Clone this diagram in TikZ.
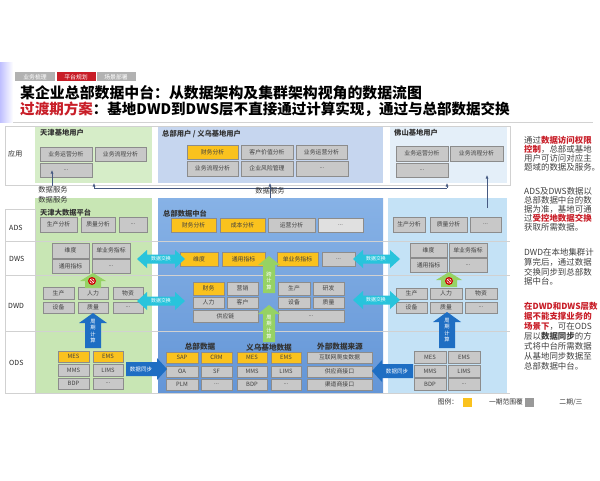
\documentclass[tikz,border=0pt]{standalone}
\usepackage{fontspec}
\setmainfont{Noto Sans CJK SC}
\usetikzlibrary{positioning,calc,arrows.meta}
\definecolor{TjGreen}{RGB}{200,230,180}
\definecolor{TjGreenApp}{RGB}{214,237,200}
\definecolor{HqBlueApp}{RGB}{198,214,239}
\definecolor{HqBlueTop}{RGB}{135,178,230}
\definecolor{HqBlue}{RGB}{100,150,215}
\definecolor{FsBlueApp}{RGB}{228,239,249}
\definecolor{FsBlue}{RGB}{196,226,246}
\definecolor{CellGray}{RGB}{200,200,200}
\definecolor{CellYellow}{RGB}{250,194,30}
\definecolor{XchCyan}{RGB}{40,196,220}
\definecolor{SyncBlue}{RGB}{30,110,195}
\definecolor{CalcGreen}{RGB}{150,210,100}
\definecolor{TitleRed}{RGB}{200,30,40}
\definecolor{LineGray}{RGB}{210,210,210}
\definecolor{SvcLine}{RGB}{70,90,130}
\tikzset{
  cell/.style={draw=black!45,fill=CellGray,inner sep=0pt,outer sep=0pt,text=black!75,
    font=\fontsize{5}{6}\selectfont},
  hot/.style={fill=CellYellow},
  pale/.style={fill=black!12},
  area/.style={font=\bfseries\fontsize{6.2}{7}\selectfont,text=black!80,inner sep=0pt,anchor=west},
  srcttl/.style={font=\bfseries\fontsize{6.5}{7}\selectfont,text=black!80,inner sep=0pt},
  rowlbl/.style={font=\fontsize{6}{7}\selectfont,text=black!85,inner sep=0pt,anchor=west},
  arrtxt/.style={text=white,font=\fontsize{4.2}{5}\selectfont,inner sep=0pt},
  vtxt/.style={text=white,font=\fontsize{4.5}{5.6}\selectfont,inner sep=0pt,align=center},
  svctxt/.style={font=\fontsize{6.2}{7}\selectfont,text=black!80,inner sep=0pt},
  svc/.style={draw=SvcLine,line width=0.5pt,-{Latex[length=3pt,width=2.5pt]}},
  svcline/.style={draw=SvcLine,line width=0.5pt},
  rowline/.style={draw=black!18,line width=0.4pt},
  note/.style={font=\fontsize{7.2}{7.7}\selectfont,text=black!75,align=left,inner sep=0pt,anchor=north west},
  tab/.style={font=\fontsize{5}{6}\selectfont,text=white,inner sep=0pt,minimum width=1.17cm,minimum height=0.27cm},
  legtxt/.style={font=\fontsize{5.8}{7}\selectfont,text=black!80,inner sep=0pt},
  legbox/.style={inner sep=0pt,minimum size=0.27cm},
}
% cell from its corners: [style] name x1 y1 x2 y2 text
\newcommand{\cbox}[7][]{\node[cell,#1,minimum width={(#5-#3)*0.03cm},minimum height={(#6-#4)*0.03cm}] (#2) at ({(#3+#5)/2},{(#4+#6)/2}) {#7};}
% block arrows
\newcommand{\blkup}[7]{\fill[#1] ({#2-#5},#4) -- ({#2-#5},{#3+#7}) -- ({#2-#6},{#3+#7}) -- (#2,#3) -- ({#2+#6},{#3+#7}) -- ({#2+#5},{#3+#7}) -- ({#2+#5},#4) -- cycle;}
\newcommand{\blkh}[7]{\fill[#1] (#2,{#5-#6}) -- (#4,{#5-#6}) -- (#4,{#5-#7}) -- (#3,#5) -- (#4,{#5+#7}) -- (#4,{#5+#6}) -- (#2,{#5+#6}) -- cycle;}
\newcommand{\blkdbl}[7]{\fill[#1] (#2,#4) -- ({#2+#7},{#4-#6}) -- ({#2+#7},{#4-#5}) -- ({#3-#7},{#4-#5}) -- ({#3-#7},{#4-#6}) -- (#3,#4) -- ({#3-#7},{#4+#6}) -- ({#3-#7},{#4+#5}) -- ({#2+#7},{#4+#5}) -- ({#2+#7},{#4+#6}) -- cycle;}

\begin{document}
\begin{tikzpicture}[x=0.03cm,y=-0.03cm]
\useasboundingbox (0,0) rectangle (600,480);
% header
\shade[left color=blue!25,right color=white] (0,63) rectangle (13,122);
\node[tab,fill=black!30] (tab1) at (35,77) {业务梳理};
\node[tab,fill=TitleRed] (tab2) at (76,77) {平台规划};
\node[tab,fill=black!30] (tab3) at (116,77) {场景部署};
\node[anchor=west,inner sep=0pt,font=\bfseries\fontsize{12.7}{14}\selectfont] (title) at (20,93)
  {某企业总部数据中台：从数据架构及集群架构视角的数据流图};
\node[anchor=west,inner sep=0pt,font=\bfseries\fontsize{12.4}{14}\selectfont] (subtitle) at (20,109)
  {\textcolor{TitleRed}{过渡期方案}：基地DWD到DWS层不直接通过计算实现，通过与总部数据交换};
\draw[LineGray,line width=0.6pt] (13,122) -- (593,122);

% regions
\fill[TjGreenApp] (35,126) rectangle (152,183);
\fill[HqBlueApp] (158,126) rectangle (383,183);
\fill[FsBlueApp] (390,126) rectangle (507,183);
\fill[TjGreen] (35,198) rectangle (152,393);
\shade[top color=HqBlueTop,bottom color=HqBlue] (158,198) rectangle (383,393);
\fill[FsBlue] (388,198) rectangle (507,393);
\draw[rowline] (5,126) rectangle (510,185);
\draw[rowline] (5,209) rectangle (35,393);
\draw[rowline] (35,393) -- (510,393);
\foreach \yy in {241,275,331}
  \draw[rowline] (5,\yy) -- (510,\yy);

% row labels
\node[rowlbl] (lblapp) at (8,154) {应用};
\node[rowlbl] (lblads) at (9,228) {ADS};
\node[rowlbl] (lbldws) at (9,259) {DWS};
\node[rowlbl] (lbldwd) at (8,306) {DWD};
\node[rowlbl] (lblods) at (9,363) {ODS};

% area labels
\node[area] (tjuser) at (40,133) {天津基地用户};
\node[area] (hquser) at (162,134) {总部用户 / 义乌基地用户};
\node[area] (fsuser) at (394,133) {佛山基地用户};
\node[area] (tjplat) at (40,213) {天津大数据平台};
\node[area] (hqplat) at (163,214) {总部数据中台};
\node[srcttl] (hqsrc) at (200,347) {总部数据};
\node[srcttl] (ywsrc) at (269,348) {义乌基地数据};
\node[srcttl] (extsrc) at (340,347) {外部数据来源};

% application
\cbox{tjops}{40}{147}{92}{161}{业务运营分析}
\cbox{tjflow}{95}{147}{146}{161}{业务流程分析}
\cbox{tjappmore}{40}{163}{92}{177}{...}
\cbox[hot]{hqfin}{187}{145}{238}{159}{财务分析}
\cbox{hqcust}{241}{145}{293}{159}{客户价值分析}
\cbox{hqops}{296}{145}{347}{159}{业务运营分析}
\cbox{hqflow}{187}{161}{238}{176}{业务流程分析}
\cbox{hqrisk}{241}{161}{293}{176}{企业风险管理}
\cbox{hqappmore}{296}{161}{348}{176}{...}
\cbox{fsops}{396}{146}{448}{161}{业务运营分析}
\cbox{fsflow}{450}{146}{503}{161}{业务流程分析}
\cbox{fsappmore}{396}{163}{448}{177}{...}

% ADS
\cbox{tjprod}{40}{217}{77}{232}{生产分析}
\cbox{tjqual}{81}{217}{115}{232}{质量分析}
\cbox{tjadsmore}{119}{217}{147}{232}{...}
\cbox[hot]{hqfinads}{171}{218}{216}{232}{财务分析}
\cbox[hot]{hqcost}{220}{218}{265}{232}{成本分析}
\cbox{hqopsads}{268}{218}{315}{232}{运营分析}
\cbox[pale]{hqadsmore}{318}{218}{363}{232}{...}
\cbox{fsprod}{393}{217}{425}{232}{生产分析}
\cbox{fsqual}{430}{217}{467}{232}{质量分析}
\cbox{fsadsmore}{470}{217}{501}{232}{...}

% DWS
\cbox{tjdim}{52}{243}{89}{258}{维度}
\cbox{tjsingle}{92}{243}{130}{258}{单业务指标}
\cbox{tjgen}{52}{259}{89}{273}{通用指标}
\cbox{tjdwsmore}{92}{259}{130}{273}{...}
\cbox[hot]{hqdim}{180}{252}{218}{266}{维度}
\cbox[hot]{hqgen}{222}{252}{265}{266}{通用指标}
\cbox[hot]{hqsingle}{277}{252}{318}{266}{单业务指标}
\cbox{hqdwsmore}{322}{252}{355}{266}{...}
\cbox{fsdim}{410}{243}{447}{257}{维度}
\cbox{fssingle}{449}{243}{487}{257}{单业务指标}
\cbox{fsgen}{410}{258}{447}{272}{通用指标}
\cbox{fsdwsmore}{449}{258}{487}{272}{...}

% DWD
\cbox{tjprd}{43}{287}{74}{299}{生产}
\cbox{tjhr}{78}{287}{108}{299}{人力}
\cbox{tjmat}{113}{287}{143}{299}{物资}
\cbox{tjeq}{43}{302}{74}{313}{设备}
\cbox{tjqa}{78}{302}{108}{313}{质量}
\cbox{tjdwdmore}{113}{302}{143}{313}{...}
\cbox[hot]{hqfinc}{193}{282}{224}{295}{财务}
\cbox{hqmkt}{227}{282}{258}{295}{营销}
\cbox{hqhr}{193}{297}{224}{308}{人力}
\cbox{hqcus}{227}{297}{258}{308}{客户}
\cbox{hqsc}{193}{310}{258}{322}{供应链}
\cbox{hqprd}{278}{282}{310}{295}{生产}
\cbox{hqrd}{313}{282}{344}{295}{研发}
\cbox{hqeq}{278}{297}{310}{308}{设备}
\cbox{hqqa}{313}{297}{344}{308}{质量}
\cbox{hqdwdmore}{278}{310}{344}{322}{...}
\cbox{fsprd}{396}{288}{427}{299}{生产}
\cbox{fshr}{430}{288}{462}{299}{人力}
\cbox{fsmat}{465}{288}{497}{299}{物资}
\cbox{fseq}{396}{302}{427}{313}{设备}
\cbox{fsqa}{430}{302}{462}{313}{质量}
\cbox{fsdwdmore}{465}{302}{497}{313}{...}

% ODS
\cbox[hot]{tjmes}{58}{351}{89}{362}{MES}
\cbox[hot]{tjems}{93}{351}{123}{362}{EMS}
\cbox{tjmms}{58}{364}{89}{376}{MMS}
\cbox{tjlims}{93}{364}{123}{376}{LIMS}
\cbox{tjbdp}{58}{378}{89}{389}{BDP}
\cbox{tjodsmore}{93}{378}{123}{389}{...}
\cbox[hot]{sap}{166}{352}{198}{363}{SAP}
\cbox[hot]{crm}{201}{352}{232}{363}{CRM}
\cbox{oa}{166}{366}{198}{377}{OA}
\cbox{sf}{201}{366}{232}{377}{SF}
\cbox{plm}{166}{379}{198}{390}{PLM}
\cbox{hqodsmore}{201}{379}{232}{390}{...}
\cbox[hot]{ywmes}{237}{352}{267}{363}{MES}
\cbox[hot]{ywems}{271}{352}{301}{363}{EMS}
\cbox{ywmms}{237}{366}{267}{377}{MMS}
\cbox{ywlims}{271}{366}{301}{377}{LIMS}
\cbox{ywbdp}{237}{379}{267}{390}{BDP}
\cbox{ywodsmore}{271}{379}{301}{390}{...}
\cbox{crawl}{307}{352}{372}{363}{互联网爬虫数据}
\cbox{supif}{307}{366}{372}{377}{供应商接口}
\cbox{chanif}{307}{379}{372}{390}{渠道商接口}
\cbox{fsmes}{414}{351}{446}{363}{MES}
\cbox{fsems}{448}{351}{480}{363}{EMS}
\cbox{fsmms}{414}{365}{446}{377}{MMS}
\cbox{fslims}{448}{365}{480}{377}{LIMS}
\cbox{fsbdp}{414}{378}{446}{390}{BDP}
\cbox{fsodsmore}{448}{378}{480}{390}{...}

% data exchange
\blkdbl{XchCyan}{137}{185}{259}{4.5}{9}{10}
\blkdbl{XchCyan}{137}{185}{301}{4.5}{9}{10}
\blkdbl{XchCyan}{353}{400}{259}{4.5}{9}{10}
\blkdbl{XchCyan}{353}{400}{300}{4.5}{9}{10}
\node[arrtxt] (xchdwsl) at (161,259) {数据交换};
\node[arrtxt] (xchdwdl) at (161,301) {数据交换};
\node[arrtxt] (xchdwsr) at (376,259) {数据交换};
\node[arrtxt] (xchdwdr) at (376,300) {数据交换};

% data sync
\blkh{SyncBlue}{126}{167}{157}{369}{7}{11}
\blkh{SyncBlue}{413}{372}{382}{371}{7}{11}
\node[arrtxt,font=\fontsize{4.7}{5}\selectfont] (synctj) at (141,369) {数据同步};
\node[arrtxt,font=\fontsize{4.7}{5}\selectfont] (syncfs) at (397,371) {数据同步};

% computation
\blkup{SyncBlue}{93}{313}{348}{8}{14}{10}
\blkup{SyncBlue}{447}{312}{348}{8}{14}{10}
\node[vtxt] (tjcyc) at (93,331) {周\\期\\计\\算};
\node[vtxt] (fscyc) at (447,330) {周\\期\\计\\算};
\blkup{CalcGreen}{269}{256}{293}{6}{11}{9}
\blkup{CalcGreen}{269}{305}{342}{6}{11}{9}
\node[vtxt] (hqcross) at (269,281) {跨\\计\\算};
\node[vtxt] (hqcyc) at (269,327) {周\\期\\计\\算};
\blkup{CalcGreen}{93}{273}{288}{8}{13}{8}
\blkup{CalcGreen}{449}{272}{287}{8}{13}{8}
\foreach \xx in {92,449} {
  \fill[red!80!black] (\xx,281) circle (4);
  \draw[white,line width=0.4pt] (\xx,281) circle (2.2);
  \draw[white,line width=0.4pt] ({\xx-1.6},279.4) -- ({\xx+1.6},282.6);
}

% data services
\coordinate (tjsvcfrom) at (52,186);
\coordinate (hqsvcfrom) at (270,198);
\coordinate (hqappin) at (270,183);
\coordinate (busl) at (94,188);
\coordinate (busr) at (447,188);
\coordinate (tjappin) at (94,183);
\coordinate (fsappin) at (447,183);
\coordinate (fssvcfrom) at (487,208);
\coordinate (fsappin2) at (487,175);
\draw[svc] (tjsvcfrom) -- (tjsvcfrom |- tjappmore.center);
\draw[svcline] (busl) -- (busr);
\draw[svc] (busl) -- (tjappin);
\draw[svc] (busr) -- (fsappin);
\draw[svc] (hqsvcfrom) -- (hqappin);
\draw[svc] (fssvcfrom) -- (fsappin2);
\node[svctxt] (tjsvc1) at (53,190) {数据服务};
\node[svctxt] (tjsvc2) at (53,200) {数据服务};
\node[svctxt] (hqsvc) at (270,191) {数据服务};

% notes
\node[note] (note1) at (524,135.5) {通过\textcolor{TitleRed}{\bfseries 数据访问权限}\\
  \textcolor{TitleRed}{\bfseries 控制}，总部或基地\\用户可访问对应主\\题域的数据及服务。};
\node[note] (note2) at (524,187.5) {ADS及DWS数据以\\总部数据中台的数\\据为准，基地可通\\
  过\textcolor{TitleRed}{\bfseries 受控地数据交换}\\获取所需数据。};
\node[note,font=\fontsize{7.2}{8.4}\selectfont] (note3) at (524,248) {DWD在本地集群计\\算完后，通过数据\\
  交换同步到总部数\\据中台。};
\node[note,font=\fontsize{7.2}{8.6}\selectfont] (note4) at (524,302) {\textcolor{TitleRed}{\bfseries 在DWD和DWS层数}\\
  \textcolor{TitleRed}{\bfseries 据不能支撑业务的}\\\textcolor{TitleRed}{\bfseries 场景下}，可在ODS\\
  层以\textbf{数据同步}的方\\式将中台所需数据\\从基地同步数据至\\总部数据中台。};

% legend
\node[legtxt] (leg) at (448,402) {图例：};
\node[legbox,fill=CellYellow] (legy) at (467.5,402.5) {};
\node[legtxt] (legone) at (506,402) {一期范围覆};
\node[legbox,fill=black!40] (legg) at (529,402.5) {};
\node[legtxt] (legtwo) at (571,402) {二期/三};
\end{tikzpicture}
\end{document}
